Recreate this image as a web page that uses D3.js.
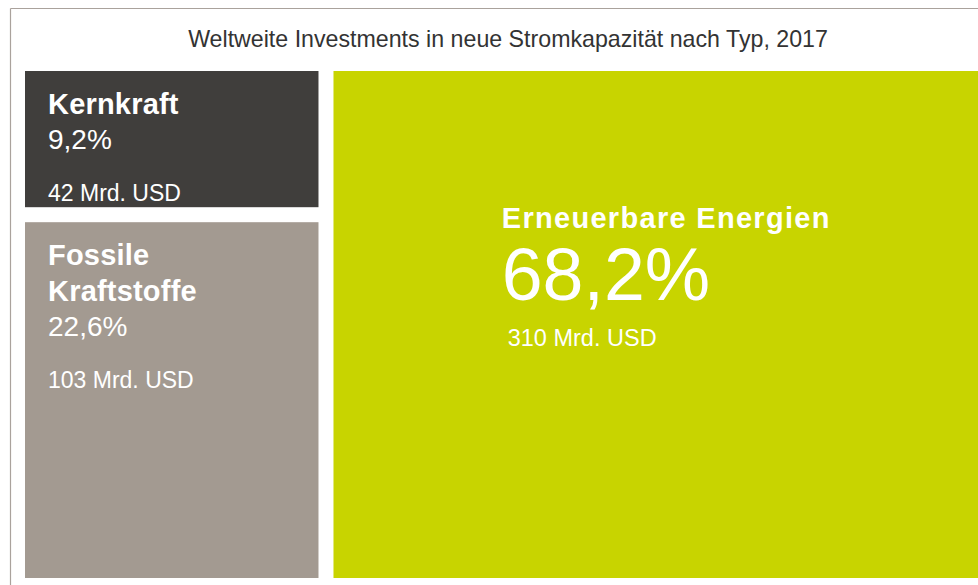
<!DOCTYPE html>
<html><head><meta charset="utf-8">
<script src="https://cdn.jsdelivr.net/npm/d3@7"></script>
<style>
html,body{margin:0;padding:0;background:#fff;}
svg{display:block;}
</style></head>
<body>
<script>
const title = "Weltweite Investments in neue Stromkapazität nach Typ, 2017";
const categories = ["Kernkraft", "Fossile Kraftstoffe", "Erneuerbare Energien"];
const labelLines = [["Kernkraft"], ["Fossile", "Kraftstoffe"], ["Erneuerbare Energien"]];
const shares = ["9,2%", "22,6%", "68,2%"];
const valuesBn = [42, 103, 310];
const valueLabels = ["42 Mrd. USD", "103 Mrd. USD", "310 Mrd. USD"];
const colors = ["#403e3c", "#a39a91", "#c8d400"];

const W = 978, H = 585;
const FONT = "'Liberation Sans', Arial, Helvetica, sans-serif";
const svg = d3.select("body").append("svg").attr("width", W).attr("height", H);

// frame lines
svg.append("line").attr("x1", 10.5).attr("x2", W).attr("y1", 8.5).attr("y2", 8.5)
  .attr("stroke", "#aaa29c").attr("stroke-width", 1.2);
svg.append("line").attr("x1", 10.5).attr("x2", 10.5).attr("y1", 8.5).attr("y2", H)
  .attr("stroke", "#aaa29c").attr("stroke-width", 1.2);

svg.append("text").attr("x", 508).attr("y", 47).attr("text-anchor", "middle")
  .attr("font-family", FONT).attr("font-size", 23.2)
  .attr("fill", "#333").text(title);

const areaLeft = 25, areaTop = 71, areaRight = 978, areaBottom = 578;
const data = {name: "root", children: categories.map((c, i) => ({name: c, i, value: valuesBn[i]}))};
const root = d3.hierarchy(data).sum(d => d.value || 0).sort((a, b) => a.value - b.value);
const pad = 15;
d3.treemap().tile(d3.treemapBinary).size([areaRight - areaLeft, areaBottom - areaTop]).paddingInner(pad)(root);

const g = svg.append("g").attr("transform", `translate(${areaLeft},${areaTop})`);
const leaves = root.leaves();
const cell = g.selectAll("g.cell").data(leaves).join("g").attr("class", "cell")
  .attr("transform", d => `translate(${d.x0},${d.y0})`);
cell.append("rect").attr("width", d => d.x1 - d.x0).attr("height", d => d.y1 - d.y0)
  .attr("fill", d => colors[d.data.i]);

cell.each(function(d) {
  const i = d.data.i;
  const sel = d3.select(this);
  const big = i === 2;
  const w = d.x1 - d.x0;
  const tx = big ? w / 2 - 154 : 23;
  let y = big ? 157 : 43;
  labelLines[i].forEach((line, k) => {
    sel.append("text").attr("x", tx).attr("y", y + k * 36)
      .attr("font-family", FONT).attr("font-weight", "bold")
      .attr("font-size", 29).attr("letter-spacing", big ? 1.3 : 0.2)
      .attr("fill", "#fff").text(line);
  });
  y += (labelLines[i].length - 1) * 36;
  sel.append("text").attr("x", tx).attr("y", big ? y + 72 : y + 35)
    .attr("font-family", FONT).attr("font-weight", 300)
    .attr("font-size", big ? 73.5 : 28).attr("fill", "#fff").text(shares[i]);
  sel.append("text").attr("x", big ? tx + 6 : tx).attr("y", big ? y + 118 : y + 87)
    .attr("font-family", FONT).attr("font-weight", 300)
    .attr("font-size", big ? 23.5 : 23).attr("fill", "#fff").text(valueLabels[i]);
});
</script>
</body></html>
